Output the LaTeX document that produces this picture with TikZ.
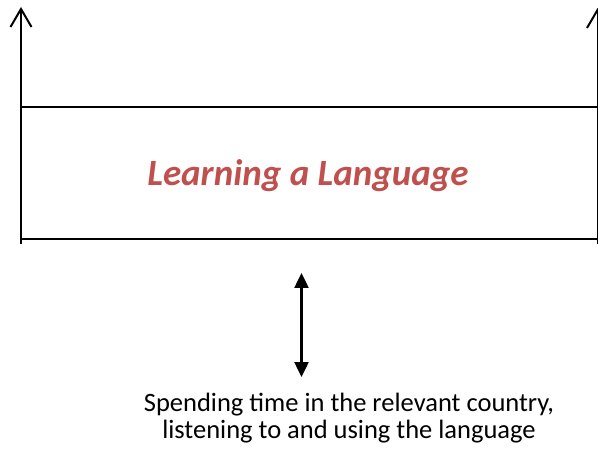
\documentclass[tikz,border=0pt]{standalone}
\usepackage{fontspec}
\setmainfont{Carlito}
\usetikzlibrary{arrows.meta}
\definecolor{titlered}{HTML}{C0504D}
\begin{document}
\begin{tikzpicture}[x=1pt,y=1pt,
  frame/.style={line width=2pt, black},
  upline/.style={frame, -{Straight Barb[length=18pt,width=21pt,line width=2pt]}},
  linkarrow/.style={line width=2.5pt, {Triangle[length=15pt,width=14pt]}-{Triangle[length=15pt,width=14pt]}},
  title/.style={font=\fontsize{37}{44}\selectfont\bfseries\itshape, text=titlered},
  caption/.style={font=\fontsize{26.5}{27}\selectfont, align=center}]
  \useasboundingbox (0,0) rectangle (598,448);
  % corner points of the band
  \coordinate (tl) at (21,341);
  \coordinate (tr) at (597.5,341);
  \coordinate (bl) at (21,209);
  \coordinate (br) at (597.5,209);
  \coordinate (lbot) at (21,204);
  \coordinate (rbot) at (597.5,204);
  \coordinate (ltop) at (21,441);
  \coordinate (rtop) at (597.5,440);
  % horizontal edges
  \draw[frame] (tl) -- (tr);
  \draw[frame] (bl) -- (br);
  % vertical sides rising into arrows
  \draw[upline] (lbot) -- (ltop);
  \draw[upline] (rbot) -- (rtop);
  % label of the band
  \node[title, anchor=base] (band) at (308,262) {Learning a Language};
  % two-way link to the caption
  \coordinate (linktop) at (301.5,175);
  \coordinate (linkbot) at (301.5,71);
  \draw[linkarrow] (linktop) -- (linkbot);
  \node[caption] (desc) at (349,30) {Spending time in the relevant country,\\listening to and using the language};
\end{tikzpicture}
\end{document}
